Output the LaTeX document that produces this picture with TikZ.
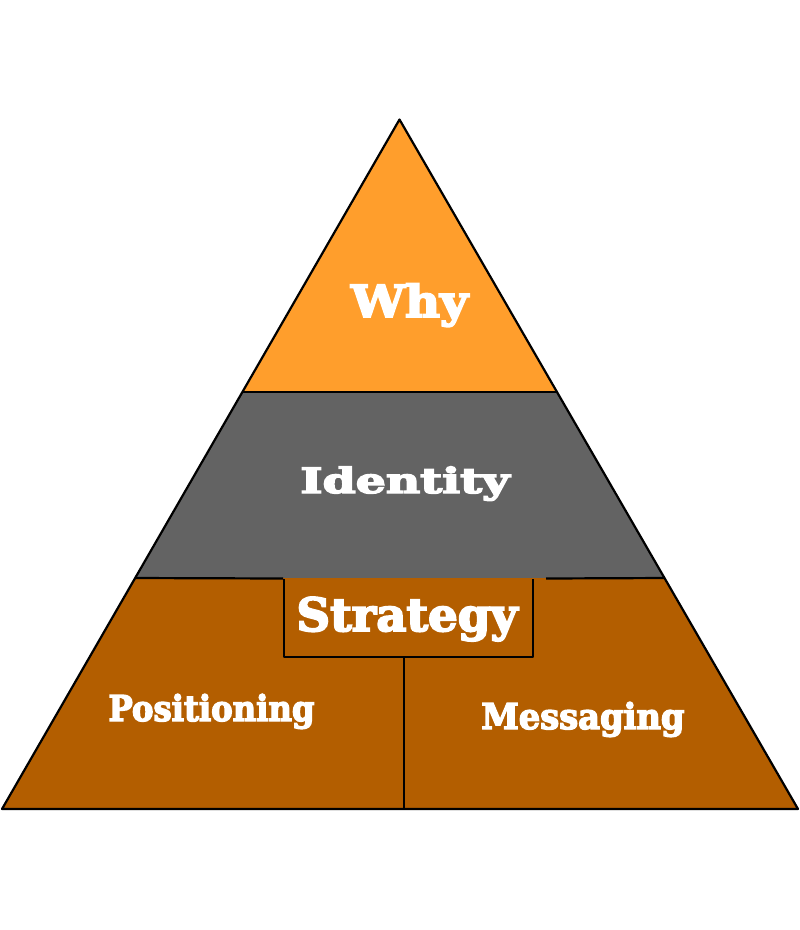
\documentclass[tikz,border=0pt]{standalone}
\usepackage{fontspec}
\setmainfont{DejaVu Serif}
\newfontfamily\heavy{DejaVu Serif Bold}[FakeBold=4]
\usetikzlibrary{calc}
\definecolor{whyor}{RGB}{255,158,44}
\definecolor{idgray}{RGB}{99,99,99}
\definecolor{stbrown}{RGB}{179,94,0}
\tikzset{
  lbl/.style={anchor=base, inner sep=0pt, text=white, font=\heavy},
  edge/.style={draw=black, line width=2.2pt, line join=round},
}
\begin{document}
\begin{tikzpicture}[x=1pt,y=-1pt]
\useasboundingbox (0,0) rectangle (800,930);
\coordinate (apex) at (399.5,119.5);
\coordinate (bl) at (2,809);
\coordinate (br) at (798,809);
\coordinate (L1) at ($(apex)!0.3952!(bl)$);
\coordinate (R1) at ($(apex)!0.3952!(br)$);
\coordinate (L2) at ($(apex)!0.665!(bl)$);
\coordinate (R2) at ($(apex)!0.665!(br)$);
% bands
\fill[whyor] (apex) -- (R1) -- (L1) -- cycle;
\fill[idgray] (L1) -- (R1) -- (R2) -- (L2) -- cycle;
\fill[stbrown] (L2) -- (R2) -- (br) -- (bl) -- cycle;
% strategy box and divider
\coordinate (stl) at (284,579);
\coordinate (sbl) at (284,657);
\coordinate (sbr) at (533,657);
\coordinate (str) at (533,579);
\coordinate (divtop) at (404,657);
\coordinate (divbot) at (404,809);
\coordinate (gapl) at (283,578.5);
\coordinate (gapr) at (546,578.5);
\draw[edge] (L1) -- (R1);
\draw[edge] (L2) -- (gapl);
\draw[edge] (gapr) -- (R2);
\draw[edge] (stl) -- (sbl) -- (sbr) -- (str);
\draw[edge] (divtop) -- (divbot);
\draw[edge] (apex) -- (br) -- (bl) -- cycle;
% labels
\node[lbl] (why) at (409.5,317) {\resizebox{117pt}{33.5pt}{Why}};
\node[lbl] (identity) at (405,493) {\resizebox{209pt}{26.5pt}{Identity}};
\node[lbl] (strategy) at (407,631) {\resizebox{221pt}{34pt}{Strategy}};
\node[lbl] (positioning) at (211.5,721) {\resizebox{206pt}{27pt}{Positioning}};
\node[lbl] (messaging) at (583,729) {\resizebox{203pt}{27pt}{Messaging}};
\end{tikzpicture}
\end{document}
